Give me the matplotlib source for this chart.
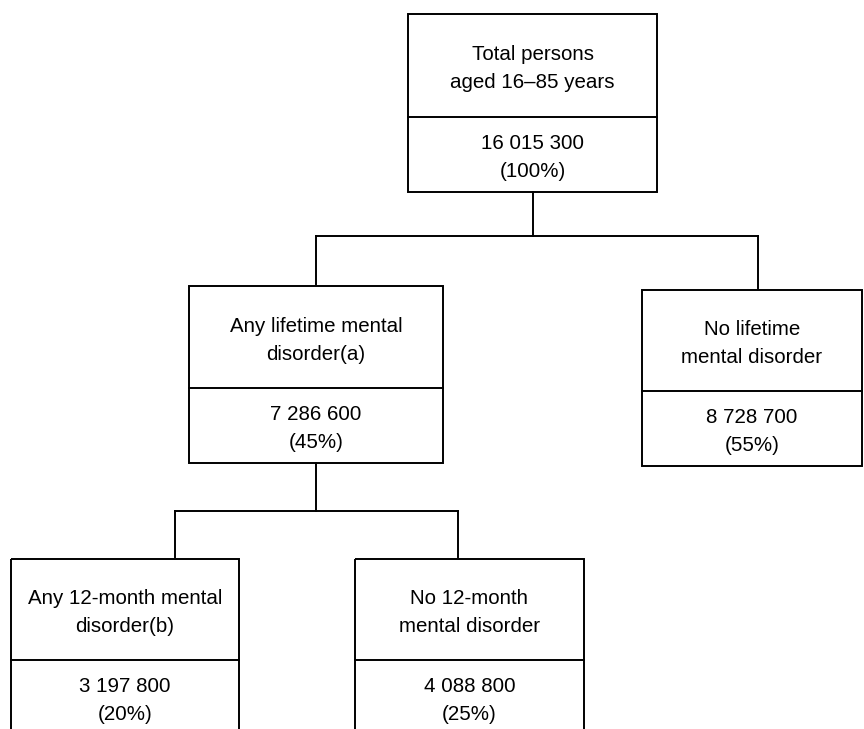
import matplotlib.pyplot as plt
from matplotlib.patches import Rectangle

# node data
labels = [
    "Total persons\naged 16\u201385 years",
    "Any lifetime mental\ndisorder(a)",
    "No lifetime\nmental disorder",
    "Any 12-month mental\ndisorder(b)",
    "No 12-month\nmental disorder",
]
counts = [16015300, 7286600, 8728700, 3197800, 4088800]
percents = [100, 45, 55, 20, 25]
parents = [None, 0, 0, 1, 1]

# layout in pixels: left, right, top, divider, bottom
boxes = [
    (408, 657, 14, 117, 192),
    (189, 443, 286, 388, 463),
    (642, 862, 290, 391, 466),
    (11, 239, 559, 660, 760),
    (355, 584, 559, 660, 760),
]
# connector drop x positions (where line reaches the child)
drop_x = [None, 316, 758, 175, 458]
bar_y = {0: 236, 1: 511}

W, H = 864, 729
LW = 1.4
FS = 14.8
LS = 1.6

plt.rcParams['font.family'] = ['Liberation Sans', 'DejaVu Sans']

fig = plt.figure(figsize=(W / 100, H / 100), dpi=100)
ax = fig.add_axes([0, 0, 1, 1])
ax.set_xlim(0, W)
ax.set_ylim(H, 0)
ax.axis('off')


def fmt(n):
    return f"{n:,}".replace(",", " ")


for i, (l, r, t, d, b) in enumerate(boxes):
    ax.add_patch(Rectangle((l, t), r - l, b - t, fill=False, lw=LW, ec='black'))
    ax.plot([l, r], [d, d], color='black', lw=LW)
    cx = (l + r) / 2
    ax.text(cx, (t + d) / 2 + 3, labels[i], ha='center', va='center',
            fontsize=FS, linespacing=LS)
    low_mid = (d + b) / 2 if b < H else d + 37
    ax.text(cx, low_mid + 3, f"{fmt(counts[i])}\n({percents[i]}%)",
            ha='center', va='center', fontsize=FS, linespacing=LS)

# connectors
for p in set(x for x in parents if x is not None):
    kids = [k for k, q in enumerate(parents) if q == p]
    l, r, t, d, b = boxes[p]
    y = bar_y[p]
    px = (l + r) / 2
    ax.plot([px, px], [b, y], color='black', lw=LW)
    xs = [drop_x[k] for k in kids]
    ax.plot([min(xs), max(xs)], [y, y], color='black', lw=LW)
    for k in kids:
        ax.plot([drop_x[k], drop_x[k]], [y, boxes[k][2] - 2], color='black', lw=LW)

fig.savefig("out.png", dpi=100)
